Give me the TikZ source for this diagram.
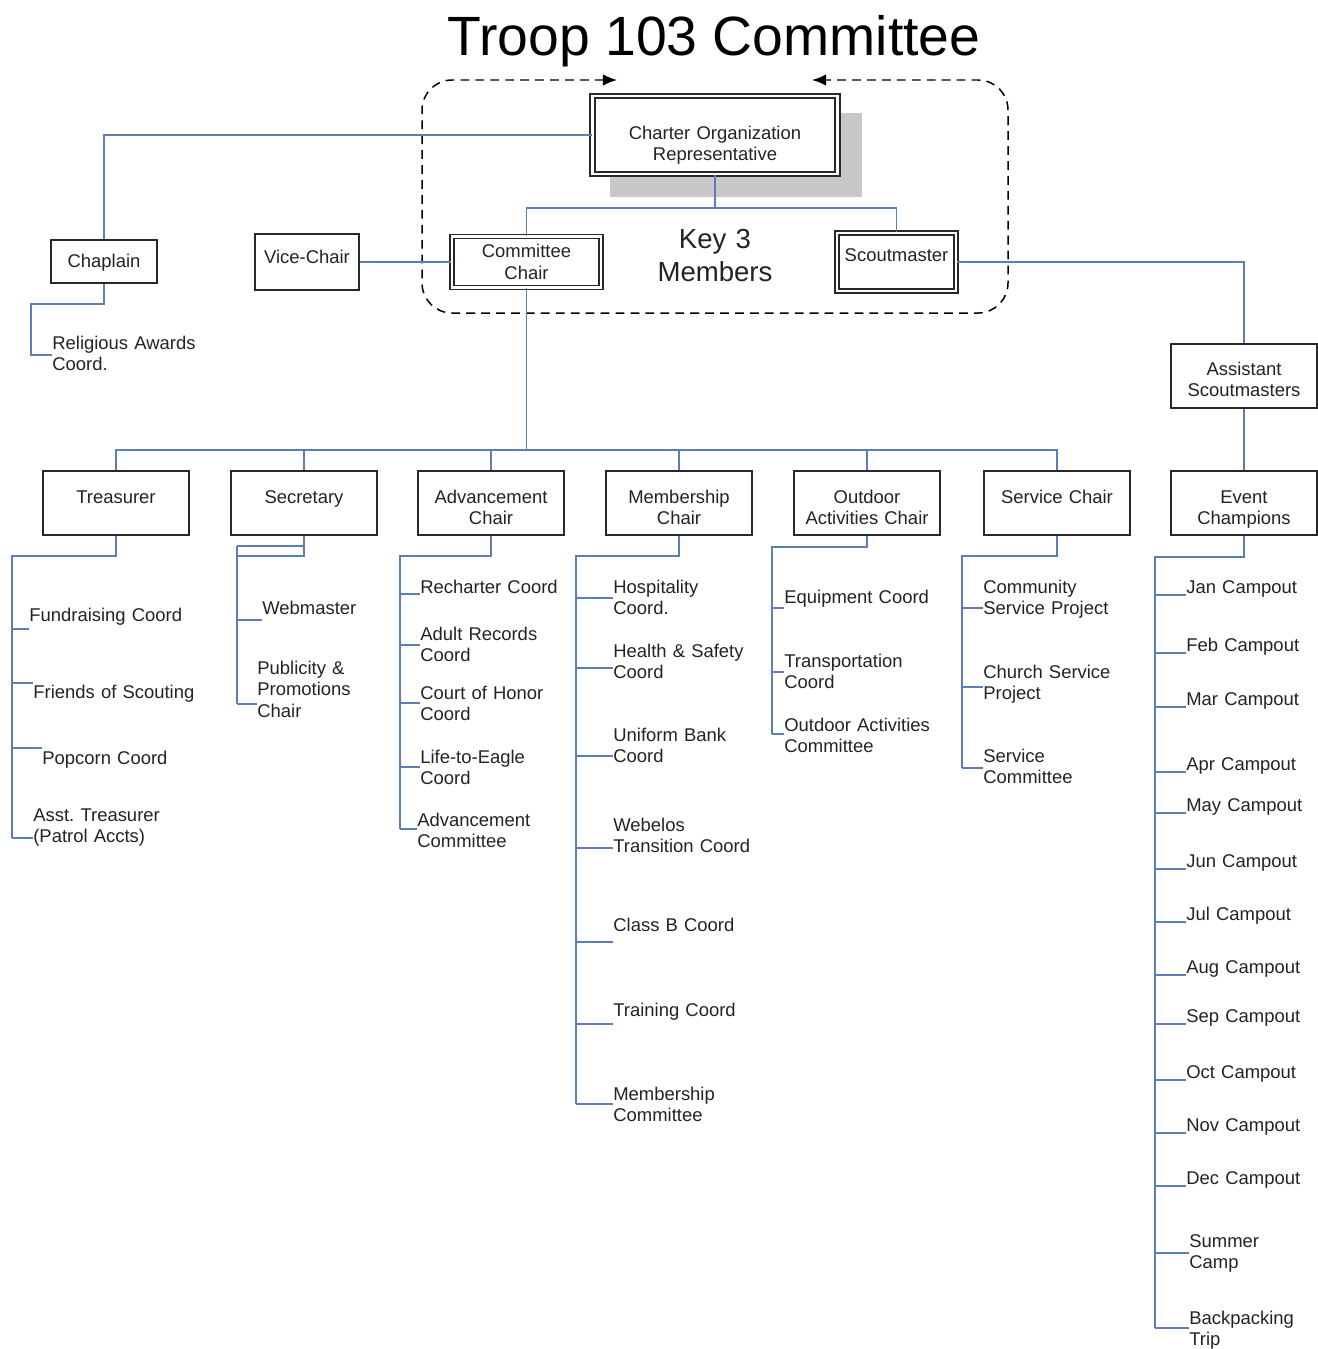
\documentclass[tikz,border=0pt]{standalone}
\usepackage{fontspec}
\setmainfont{Liberation Sans}
\usepackage{xcolor}
\usetikzlibrary{arrows.meta}
\definecolor{linkblue}{RGB}{92,126,180}
\definecolor{boxline}{RGB}{40,40,40}
\definecolor{inkgray}{RGB}{35,35,35}
\definecolor{shadowgray}{RGB}{200,200,200}
\newcommand{\chartfont}{\fontsize{10.5}{12.5}\selectfont}
\frenchspacing

\begin{document}
\begin{tikzpicture}[x=0.02cm, y=-0.02cm,
    box/.style={draw=boxline, line width=1pt, fill=white, align=center, inner sep=0pt,
      text width=2.92cm, text height=0.64cm, text depth=0.64cm, font=\chartfont, text=inkgray},
    keybox/.style={box, double=white, double distance=1.4pt, line width=1.1pt},
    item/.style={anchor=base west, align=left, inner sep=0pt, text width=4cm, font=\chartfont, text=inkgray},
    link/.style={draw=linkblue, line width=0.85pt},
    frame/.style={draw=black, line width=0.85pt, dash pattern=on 5pt off 3.5pt, rounded corners=0.6cm}]
		\useasboundingbox (0,0) rectangle (1318,1349);

		\node[font=\fontsize{31.5}{36}\selectfont, anchor=base] (title) at (714,55) {Troop 103 Committee};

		% Key 3 members
		\fill[shadowgray] (610,113) rectangle (862,197);
		\node[keybox, text width=4.9cm, text height=0.86cm, text depth=0.70cm] (charter) at (715,135) {Charter Organization\\Representative};
		\node[keybox, double distance=1.2pt, text width=2.98cm, text height=0.42cm, text depth=0.60cm] (cchair) at (526.5,262) {Committee\\Chair};
		\node[keybox, text width=2.38cm, text height=0.56cm, text depth=0.60cm] (scout) at (896.5,262) {Scoutmaster};
		\node[font=\fontsize{15.7}{19}\selectfont, align=center, text width=3cm, anchor=base, text=inkgray] (key3) at (715,248) {Key 3\\Members};
		\draw[frame, {Latex[length=8pt,width=6.5pt]}-{Latex[length=8pt,width=6.5pt]}] (617,80) -- (422,80) -- (422,313) -- (1008,313) -- (1008,80) -- (812,80);

		\node[box, text width=2.12cm, text height=0.54cm, text depth=0.32cm] (chap) at (104,261.5) {Chaplain};
		\node[box, text width=2.08cm, text height=0.59cm, text depth=0.53cm] (vice) at (307,262) {Vice-Chair};
		\node[box, text height=0.62cm, text depth=0.66cm] (asm) at (1244,376) {Assistant\\Scoutmasters};

		\coordinate (k3) at (715,208);
		\draw[link] (charter.south) -- (k3);
		\draw[link] (cchair.north) |- (k3) -| (scout.north);
		\draw[link] (charter.west) -| (chap.north);
		\draw[link] (vice.east) -- (vice.east -| cchair.west);
		\draw[link] (scout.east) -| (asm.north);

		% committee row
		\node[box] (treas) at (116,503) {Treasurer};
		\node[box] (secr) at (304,503) {Secretary};
		\node[box] (adv) at (491,503) {Advancement\\Chair};
		\node[box] (memb) at (679,503) {Membership\\Chair};
		\node[box] (outd) at (867,503) {Outdoor\\Activities Chair};
		\node[box] (serv) at (1057,503) {Service Chair};
		\node[box] (event) at (1244,503) {Event\\Champions};

		\coordinate (bus) at (526.5,450);
		\draw[link] (cchair.south) -- (bus);
		\draw[link] (treas.north) |- (bus) -| (serv.north);
		\foreach \n in {secr,adv,memb,outd}
			\draw[link] (\n.north) -- (\n.north |- bus);
		\draw[link] (asm.south) -- (event.north);

		% chaplain
		\node[item] (relig) at (52,349) {Religious Awards\\Coord.};
		\coordinate (chs) at (31,304);
		\coordinate (che) at (31,355);
		\draw[link] (chap.south) |- (chs) -- (che) -- (che -| relig.west);

		% treasurer
		\node[item] (fund) at (29,621) {Fundraising Coord};
		\node[item] (fos) at (33,698) {Friends of Scouting};
		\node[item] (pop) at (42,764) {Popcorn Coord};
		\node[item] (asst) at (33,821) {Asst. Treasurer\\(Patrol Accts)};
		\coordinate (trs) at (12,556);
		\coordinate (tre) at (12,838);
		\draw[link] (treas.south) |- (trs) -- (tre);
		\foreach \n/\y in {fund/629,fos/683,pop/748,asst/838}{
			\coordinate (j) at (12,\y);
			\draw[link] (j) -- (j -| \n.west);
		}

		% secretary
		\node[item] (webm) at (262,614) {Webmaster};
		\node[item] (pub) at (257,674) {Publicity \&\\Promotions\\Chair};
		\coordinate (ses) at (237,546);
		\coordinate (ses2) at (237,556);
		\coordinate (see) at (237,704);
		\draw[link] (secr.south) |- (ses2) -- (see);
		\draw[link] (ses) -- (ses -| secr.south);
		\draw[link] (ses) -- (ses2);
		\foreach \n/\y in {webm/620,pub/704}{
			\coordinate (j) at (237,\y);
			\draw[link] (j) -- (j -| \n.west);
		}

		% advancement
		\node[item] (rech) at (420,593) {Recharter Coord};
		\node[item] (adrec) at (420,640) {Adult Records\\Coord};
		\node[item] (coh) at (420,699) {Court of Honor\\Coord};
		\node[item] (eagle) at (420,763) {Life-to-Eagle\\Coord};
		\node[item] (advc) at (417,826) {Advancement\\Committee};
		\coordinate (ads) at (400,556);
		\coordinate (ade) at (400,829);
		\draw[link] (adv.south) |- (ads) -- (ade);
		\foreach \n/\y in {rech/594,adrec/645,coh/703,eagle/767,advc/829}{
			\coordinate (j) at (400,\y);
			\draw[link] (j) -- (j -| \n.west);
		}

		% membership
		\node[item] (hosp) at (613,593) {Hospitality\\Coord.};
		\node[item] (hsafe) at (613,657) {Health \& Safety\\Coord};
		\node[item] (unif) at (613,741) {Uniform Bank\\Coord};
		\node[item] (webel) at (613,831) {Webelos\\Transition Coord};
		\node[item] (classb) at (613,931) {Class B Coord};
		\node[item] (train) at (613,1016) {Training Coord};
		\node[item] (membc) at (613,1100) {Membership\\Committee};
		\coordinate (mes) at (576,556);
		\coordinate (mee) at (576,1104);
		\draw[link] (memb.south) |- (mes) -- (mee);
		\foreach \n/\y in {hosp/598,hsafe/668,unif/756,webel/848,classb/942,train/1024,membc/1104}{
			\coordinate (j) at (576,\y);
			\draw[link] (j) -- (j -| \n.west);
		}

		% outdoor activities
		\node[item] (equip) at (784,603) {Equipment Coord};
		\node[item] (transp) at (784,667) {Transportation\\Coord};
		\node[item] (oac) at (784,731) {Outdoor Activities\\Committee};
		\coordinate (ous) at (772,547);
		\coordinate (oue) at (772,734);
		\draw[link] (outd.south) |- (ous) -- (oue);
		\foreach \n/\y in {equip/608,transp/672,oac/734}{
			\coordinate (j) at (772,\y);
			\draw[link] (j) -- (j -| \n.west);
		}

		% service
		\node[item] (comm) at (983,593) {Community\\Service Project};
		\node[item] (church) at (983,678) {Church Service\\Project};
		\node[item] (servc) at (983,762) {Service\\Committee};
		\coordinate (svs) at (962,556);
		\coordinate (sve) at (962,768);
		\draw[link] (serv.south) |- (svs) -- (sve);
		\foreach \n/\y in {comm/608,church/687,servc/768}{
			\coordinate (j) at (962,\y);
			\draw[link] (j) -- (j -| \n.west);
		}

		% event champions
		\foreach \m/\y in {Jan/587,Feb/645,Mar/699,Apr/764,May/805,Jun/861,Jul/914,Aug/967,Sep/1016,Oct/1072,Nov/1125,Dec/1178}{
			\node[item] (camp\m) at (1186,\y+6) {\m\ Campout};
			\coordinate (j) at (1155,\y+8);
			\draw[link] (j) -- (j -| camp\m.west);
		}
		\node[item] (summer) at (1189,1247) {Summer\\Camp};
		\node[item] (backp) at (1189,1324) {Backpacking\\Trip};
		\coordinate (evs) at (1155,557);
		\coordinate (eve) at (1155,1328);
		\draw[link] (event.south) |- (evs) -- (eve);
		\foreach \n/\y in {summer/1253,backp/1328}{
			\coordinate (j) at (1155,\y);
			\draw[link] (j) -- (j -| \n.west);
		}
	  \end{tikzpicture}
\end{document}
